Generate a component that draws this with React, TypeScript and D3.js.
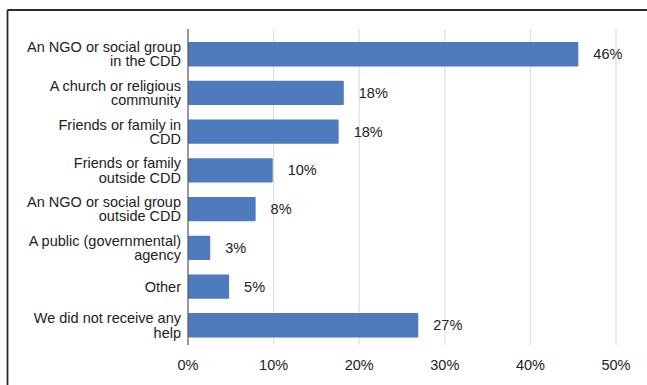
import React from "react";
import * as d3 from "d3";

const categories: string[][] = [
  ["An NGO or social group", "in the CDD"],
  ["A church or religious", "community"],
  ["Friends or family in", "CDD"],
  ["Friends or family", "outside CDD"],
  ["An NGO or social group", "outside CDD"],
  ["A public (governmental)", "agency"],
  ["Other"],
  ["We did not receive any", "help"],
];
const values: number[] = [45.6, 18.2, 17.6, 9.9, 7.9, 2.6, 4.8, 26.9];
const valueLabels: string[] = ["46%", "18%", "18%", "10%", "8%", "3%", "5%", "27%"];
const ticks: number[] = [0, 10, 20, 30, 40, 50];

const W = 647;
const H = 385;
const FONT = "'Liberation Sans', Arial, Helvetica, sans-serif";

export default function App() {
  const x = d3.scaleLinear().domain([0, 50]).range([188, 616]);
  const y = d3
    .scaleBand<number>()
    .domain(d3.range(categories.length))
    .range([35, 344.5])
    .paddingInner(0.37)
    .paddingOuter(0.18);
  const gridTop = 29;
  const gridBottom = 345;
  const lh = 14.4;
  const fs = 14.5;

  return (
    <svg
      width={W}
      height={H}
      style={{ position: "absolute", left: 0, top: 0, display: "block", background: "#fff" }}
      fontFamily={FONT}
    >
      <rect x={0} y={0} width={W} height={H} fill="#fff" />
      {/* frame */}
      <line x1={7.5} y1={10} x2={W} y2={10} stroke="#2a2a2a" strokeWidth={1.8} />
      <line x1={7.5} y1={10} x2={7.5} y2={H} stroke="#2a2a2a" strokeWidth={1.8} />
      {/* gridlines */}
      {ticks.slice(1).map((t) => (
        <line key={t} x1={x(t)} x2={x(t)} y1={gridTop} y2={gridBottom} stroke="#d9d9d9" strokeWidth={1} />
      ))}
      {/* bars */}
      {values.map((v, i) => (
        <rect
          key={i}
          x={x(0)}
          y={y(i)!}
          width={x(v) - x(0)}
          height={y.bandwidth()}
          fill="#4e7bbe"
          rx={1}
        />
      ))}
      {/* axis line */}
      <line x1={x(0)} x2={x(0)} y1={gridTop} y2={gridBottom} stroke="#555" strokeWidth={1.2} />
      {/* value labels */}
      {values.map((v, i) => (
        <text
          key={i}
          x={x(v) + 15}
          y={y(i)! + y.bandwidth() / 2}
          dy="0.35em"
          fontSize={fs}
          fill="#222"
        >
          {valueLabels[i]}
        </text>
      ))}
      {/* category labels */}
      {categories.map((lines, i) => {
        const cy = y(i)! + y.bandwidth() / 2;
        const start = cy - ((lines.length - 1) * lh) / 2;
        return (
          <text key={i} x={181} textAnchor="end" fontSize={fs} fill="#222">
            {lines.map((l, j) => (
              <tspan key={j} x={181} y={start + j * lh} dy="0.35em">
                {l}
              </tspan>
            ))}
          </text>
        );
      })}
      {/* tick labels */}
      {ticks.map((t) => (
        <text key={t} x={x(t)} y={365} dy="0.35em" textAnchor="middle" fontSize={fs} fill="#222">
          {t + "%"}
        </text>
      ))}
    </svg>
  );
}
